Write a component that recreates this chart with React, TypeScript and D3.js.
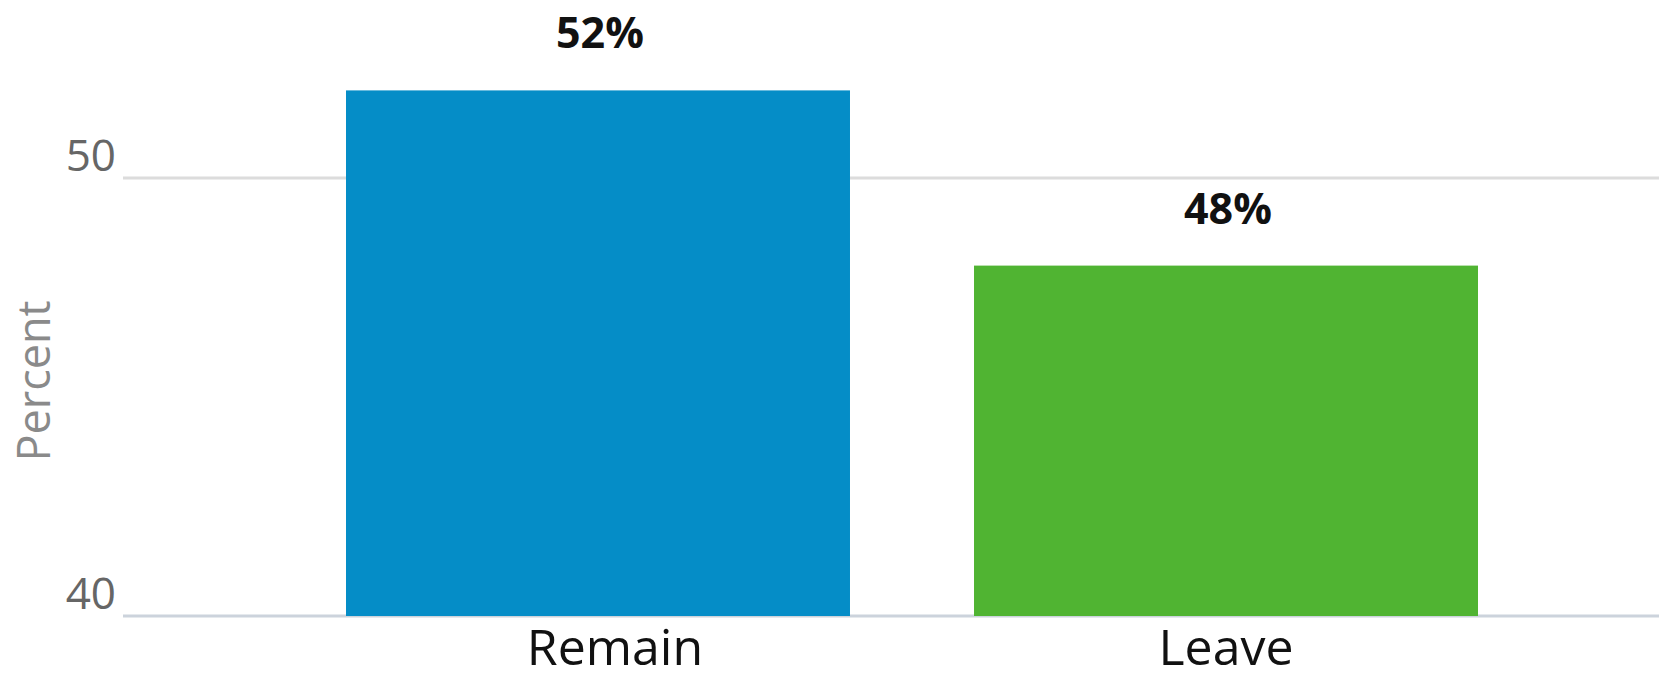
import React, { useEffect } from "react";
import * as d3 from "d3";

const categories = ["Remain", "Leave"];
const values = [52, 48];
const colors = ["#058DC7", "#50B432"];
const yTicks = [40, 50];
const yTitle = "Percent";

const W = 1659;
const H = 679;

export default function App() {
  useEffect(() => {
    document.body.style.margin = "0";
  }, []);

  const y = d3.scaleLinear().domain([40, 50]).range([616, 178]);
  const x = d3
    .scaleBand<string>()
    .domain(categories)
    .range([346, 1478])
    .paddingInner(0.1975)
    .paddingOuter(0);

  const font = "'Open Sans', sans-serif";

  return (
    <svg width={W} height={H} style={{ display: "block", background: "#fff" }}>
      {yTicks.map((t) => (
        <g key={t}>
          <line
            x1={123}
            x2={W}
            y1={y(t)}
            y2={y(t)}
            stroke={t === 40 ? "#ccd3dc" : "#dcdcdc"}
            strokeWidth={3}
          />
          <text
            x={116}
            y={y(t) - 7}
            textAnchor="end"
            fontFamily={font}
            fontSize={44}
            fill="#666"
          >
            {t}
          </text>
        </g>
      ))}
      <text
        transform={`translate(50, 381) rotate(-90)`}
        textAnchor="middle"
        fontFamily={font}
        fontSize={45}
        fill="#8a8a8a"
      >
        {yTitle}
      </text>
      {categories.map((c, i) => {
        const bx = x(c)!;
        const bw = x.bandwidth();
        const top = y(values[i]);
        return (
          <g key={c}>
            <rect x={bx} y={top} width={bw} height={y(40) - top} fill={colors[i]} />
            <text
              x={bx + bw / 2 + 2}
              y={top - 42}
              textAnchor="middle"
              fontFamily={font}
              fontWeight="bold"
              fontSize={43}
              fill="#111"
            >
              {values[i]}%
            </text>
            <text
              x={bx + bw / 2 + (i === 0 ? 17 : 0)}
              y={665}
              textAnchor="middle"
              fontFamily={font}
              fontSize={50}
              fill="#111"
            >
              {c}
            </text>
          </g>
        );
      })}
    </svg>
  );
}
